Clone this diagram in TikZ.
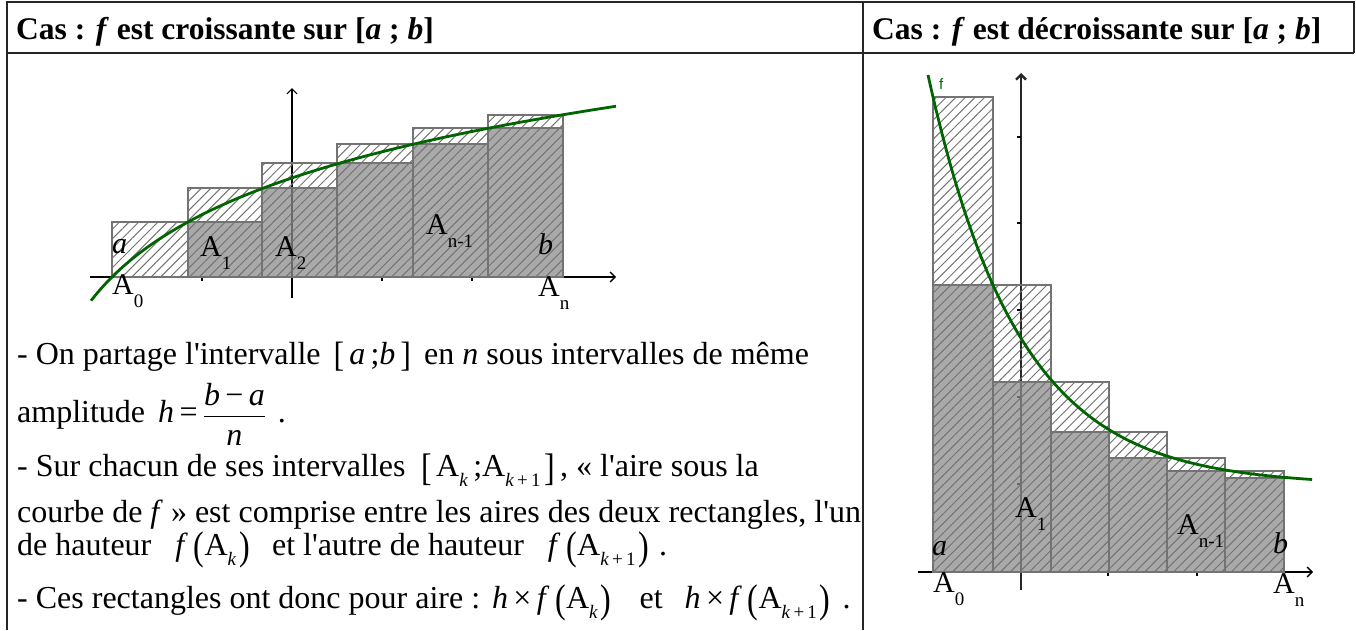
\documentclass[tikz,border=0pt]{standalone}
\usepackage{fontspec}
\setmainfont{Liberation Serif}
\newfontfamily\ggsans{Liberation Sans}
\usepackage{graphicx}
\usetikzlibrary{arrows.meta,patterns.meta}
\definecolor{ggreen}{RGB}{0,100,0}
\newcommand\sbx[1]{\raisebox{-10pt}{\fontsize{19}{19}\selectfont #1}}
\newcommand\gsub[1]{\raisebox{-13pt}{\fontsize{19}{19}\selectfont #1}}
\newcommand\tallp[1]{\raisebox{-4.5pt}{\scalebox{1}[1.25]{#1}}}
\newcommand\tallb[1]{\raisebox{-4pt}{\scalebox{1}[1.2]{#1}}}
\newcommand\brk[1]{\raisebox{-2pt}{\scalebox{1}[1.1]{#1}}}
\newcommand\ap{\textquotesingle}
\tikzset{
  lbl/.style={anchor=base west, inner sep=0pt, font=\fontsize{30}{30}\selectfont},
  txt/.style={anchor=base west, inner sep=0pt, font=\fontsize{32}{38}\selectfont},
  hdr/.style={anchor=base west, inner sep=0pt, font=\fontsize{31.5}{38}\selectfont\bfseries},
  gridline/.style={draw=black!85, line width=1.2pt},
  axisline/.style={black, line width=1.4pt, -{Straight Barb[length=5pt,width=10pt]}},
  lowrect/.style={fill=black!45, fill opacity=0.75},
  hatch/.style={pattern={Lines[angle=45,distance=6.8pt,line width=1pt]}, pattern color=black!55},
  rborder/.style={draw=black!55, line width=1.3pt},
  curve/.style={draw=ggreen, line width=2.8pt},
  tick/.style={black, line width=1.4pt},
}
\begin{document}
\begin{tikzpicture}[x=1pt,y=-1pt]
\useasboundingbox (0,0) rectangle (1356,630);
% table
\coordinate (tl) at (7,2);
\coordinate (tr) at (1354,2);
\coordinate (hl) at (7,53);
\coordinate (hr) at (1354,53);
\coordinate (bl) at (7,630);
\coordinate (mt) at (863,2);
\coordinate (mb) at (863,630);
\draw[gridline] (bl) -- (tl) -- (tr) -- (hr);
\draw[gridline] (hl) -- (hr);
\draw[gridline] (mt) -- (mb);
% headers
\node[hdr] (h1) at (16,39) {Cas : \textit{f} est croissante sur [\textit{a} ; \textit{b}]};
\node[hdr] (h2) at (872,39) {Cas : \textit{f} est décroissante sur [\textit{a} ; \textit{b}]};
% ---------- left diagram ----------
\coordinate (lx0) at (90,277);
\coordinate (lx1) at (616,277);
\coordinate (ly0) at (292,298);
\coordinate (ly1) at (292,88);
\draw[axisline] (lx0) -- (lx1);
\draw[axisline, line width=1.2pt] (ly0) -- (ly1);
\foreach \t in {202,382,472} \draw[tick] (\t,277) -- (\t,281);
\foreach \xa/\xb/\lo/\hi in {112/188/277/222, 188/262/222/188, 262/337/188/163, 337/413/163/144, 413/488/144/128, 488/563/128/115}{
  \fill[lowrect] (\xa,277) rectangle (\xb,\lo);
  \path[hatch] (\xa,277) rectangle (\xb,\hi);
  \draw[rborder] (\xa,\lo) -- (\xb,\lo);
  \draw[rborder] (\xa,277) rectangle (\xb,\hi);
}
\draw[curve] plot[domain=91:616, samples=90, smooth] (\x, {277 - 91.4*ln((\x-20)/92)});
\node[lbl] (la) at (112,253) {\textit{a}};
\node[lbl] (lA0) at (112,294) {A\gsub{0}};
\node[lbl] (lA1) at (200,256) {A\gsub{1}};
\node[lbl] (lA2) at (275,256) {A\gsub{2}};
\node[lbl] (lAn1) at (426,234) {A\gsub{n-1}};
\node[lbl] (lb) at (538,254) {\textit{b}};
\node[lbl] (lAn) at (538,296) {A\gsub{n}};
% ---------- text ----------
\node[txt] (t1) at (17,364) {- On partage l\ap intervalle\hspace{13pt}\brk{[}\hspace{5pt}\textit{a}\,;\textit{b}\hspace{5pt}\brk{]}\hspace{13pt}en \textit{n} sous intervalles de même};
\node[txt] (t2) at (17,422) {amplitude\hspace{13pt}\textit{h}\,=\,$\displaystyle\frac{\mbox{\textit{b}\,−\,\textit{a}}}{\mbox{\rule{0pt}{28pt}\textit{n}}}$\hspace{12pt}.};
\node[txt] (t3) at (17,476) {- Sur chacun de ses intervalles\hspace{16pt}\tallb{[}\hspace{4pt}A\sbx{\textit{k}}\,;A\sbx{\textit{k}\,+\,1}\hspace{4pt}\tallb{]}\hspace{5pt}, « l\ap aire sous la};
\node[txt] (t4) at (17,522) {courbe de \textit{f} » est comprise entre les aires des deux rectangles, l\ap un};
\node[txt] (t5) at (17,555) {de hauteur\hspace{24pt}\textit{f}\hspace{6pt}\tallp{(}A\sbx{\textit{k}}\hspace{3pt}\tallp{)}\hspace{22pt}et l\ap autre de hauteur\hspace{24pt}\textit{f}\hspace{6pt}\tallp{(}A\sbx{\textit{k}\,+\,1}\hspace{3pt}\tallp{)}\hspace{10pt}.};
\node[txt] (t6) at (17,608) {- Ces rectangles ont donc pour aire :\hspace{12pt}\textit{h}\,×\,\textit{f}\hspace{6pt}\tallp{(}A\sbx{\textit{k}}\hspace{3pt}\tallp{)}\hspace{28pt}et\hspace{22pt}\textit{h}\,×\,\textit{f}\hspace{6pt}\tallp{(}A\sbx{\textit{k}\,+\,1}\hspace{3pt}\tallp{)}\hspace{12pt}.};
% ---------- right diagram ----------
\coordinate (rx0) at (918,572);
\coordinate (rx1) at (1313,572);
\coordinate (ry0) at (1021,590);
\coordinate (ry1) at (1021,73);
\draw[axisline] (rx0) -- (rx1);
\draw[axisline, line width=2.4pt, black!85] (ry0) -- (ry1);
\foreach \t in {1108,1197} \draw[tick] (\t,572) -- (\t,576);
\foreach \t in {137,223,310,397,484} \draw[tick] (1017,\t) -- (1021,\t);
\foreach \xa/\xb/\lo/\hi in {933/993/285/97, 993/1051/382/285, 1051/1109/432/382, 1109/1167/458/432, 1167/1225/471/458, 1225/1284/478/471}{
  \fill[lowrect] (\xa,572) rectangle (\xb,\lo);
  \path[hatch] (\xa,572) rectangle (\xb,\hi);
  \draw[rborder] (\xa,\lo) -- (\xb,\lo);
  \draw[rborder] (\xa,572) rectangle (\xb,\hi);
}
\draw[curve] plot[domain=928:1312, samples=100, smooth] (\x, {572 - 86.6 - 388.4*exp(-0.01103*(\x-933))});
\node[anchor=base west, inner sep=0pt, text=ggreen, font=\ggsans\fontsize{15}{15}\selectfont] (fl) at (939,89) {f};
\node[lbl] (ra) at (932,555) {\textit{a}};
\node[lbl] (rA0) at (933,592) {A\gsub{0}};
\node[lbl] (rA1) at (1015,517) {A\gsub{1}};
\node[lbl] (rAn1) at (1177,534) {A\gsub{n-1}};
\node[lbl] (rb) at (1273,553) {\textit{b}};
\node[lbl] (rAn) at (1273,593) {A\gsub{n}};
\end{tikzpicture}
\end{document}
